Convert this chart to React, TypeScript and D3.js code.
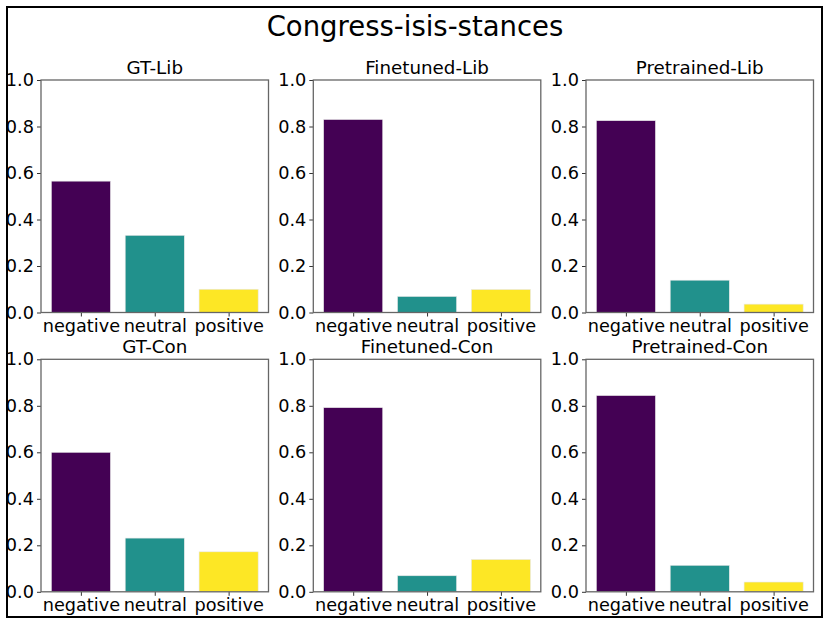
import * as d3 from "d3";
import React, { useEffect, useRef } from "react";

const categories = ["negative", "neutral", "positive"];
const panelTitles = [
  "GT-Lib",
  "Finetuned-Lib",
  "Pretrained-Lib",
  "GT-Con",
  "Finetuned-Con",
  "Pretrained-Con",
];
const gtLib = [0.565, 0.332, 0.1];
const finetunedLib = [0.83, 0.069, 0.099];
const pretrainedLib = [0.825, 0.139, 0.036];
const gtCon = [0.6, 0.231, 0.172];
const finetunedCon = [0.792, 0.069, 0.139];
const pretrainedCon = [0.844, 0.114, 0.042];
const yTicks = [0, 0.2, 0.4, 0.6, 0.8, 1.0];
const barColors = ["#440154", "#21918c", "#fde725"];

const App: React.FC = () => {
  const ref = useRef<SVGSVGElement>(null);

  useEffect(() => {
    document.body.style.margin = "0";
    const width = 830;
    const height = 625;
    const font = "'DejaVu Sans', sans-serif";

    d3.select(ref.current).selectAll("*").remove();
    const svg = d3.select(ref.current)
      .attr("width", width)
      .attr("height", height);

    svg.append("rect")
      .attr("width", width)
      .attr("height", height)
      .attr("fill", "#ffffff");

    // Outer frame
    svg.append("rect")
      .attr("x", 7)
      .attr("y", 7)
      .attr("width", 815)
      .attr("height", 610)
      .attr("fill", "none")
      .attr("stroke", "#000000")
      .attr("stroke-width", 2);

    // Figure title
    svg.append("text")
      .attr("x", 415)
      .attr("y", 36)
      .attr("text-anchor", "middle")
      .style("font-family", font)
      .style("font-size", "27.5px")
      .text("Congress-isis-stances");

    const series = [gtLib, finetunedLib, pretrainedLib, gtCon, finetunedCon, pretrainedCon];
    const panelW = 227.5;
    const panelH = 232.5;
    const colLefts = [41, 313.3, 586];
    const rowTops = [80, 359.3];

    series.forEach((values, idx) => {
      const left = colLefts[idx % 3];
      const top = rowTops[Math.floor(idx / 3)];

      const x = d3.scaleLinear()
        .domain([-0.54, categories.length - 1 + 0.54])
        .range([left, left + panelW]);
      const y = d3.scaleLinear()
        .domain([0, 1])
        .range([top + panelH, top]);

      const g = svg.append("g");

      // Bars
      g.selectAll("rect.bar")
        .data(values)
        .enter()
        .append("rect")
        .attr("class", "bar")
        .attr("x", (_d, i) => x(i - 0.4))
        .attr("width", (_d, i) => x(i + 0.4) - x(i - 0.4))
        .attr("y", (d) => y(d))
        .attr("height", (d) => y(0) - y(d))
        .attr("fill", (_d, i) => barColors[i])
        .attr("stroke", "#e8e8e8")
        .attr("stroke-width", 0.6);

      // Y axis
      const yAxis = g.append("g")
        .attr("transform", `translate(${left},0)`)
        .call(
          d3.axisLeft(y)
            .tickValues(yTicks)
            .tickFormat(d3.format(".1f"))
            .tickSize(4)
            .tickPadding(3)
        );
      yAxis.select(".domain").remove();
      yAxis.selectAll("line").attr("stroke", "#333");
      yAxis.selectAll("text")
        .style("font-family", font)
        .style("font-size", "17.7px")
        .attr("fill", "#000");

      // X axis
      const xAxis = g.append("g")
        .attr("transform", `translate(0,${top + panelH})`)
        .call(
          d3.axisBottom(x)
            .tickValues(categories.map((_c, i) => i))
            .tickFormat((_d, i) => categories[i])
            .tickSize(4)
            .tickPadding(3)
        );
      xAxis.select(".domain").remove();
      xAxis.selectAll("line").attr("stroke", "#333");
      xAxis.selectAll("text")
        .style("font-family", font)
        .style("font-size", "17.7px")
        .attr("fill", "#000");

      // Axes frame
      g.append("rect")
        .attr("x", left)
        .attr("y", top)
        .attr("width", panelW)
        .attr("height", panelH)
        .attr("fill", "none")
        .attr("stroke", "#666")
        .attr("stroke-width", 1.3);

      // Panel title
      g.append("text")
        .attr("x", left + panelW / 2)
        .attr("y", top - 6)
        .attr("text-anchor", "middle")
        .style("font-family", font)
        .style("font-size", "18.3px")
        .text(panelTitles[idx]);
    });
  }, []);

  return <svg ref={ref} style={{ display: "block" }}></svg>;
};

export default App;
